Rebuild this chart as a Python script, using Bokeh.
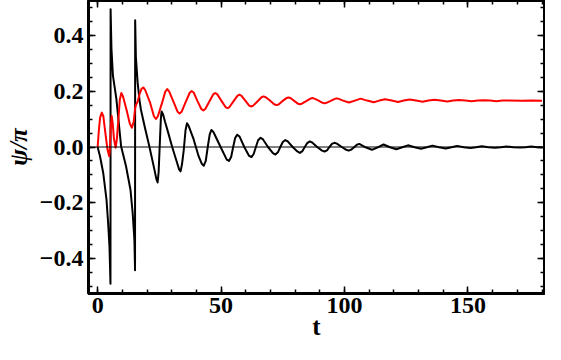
from bokeh.plotting import figure
from bokeh.models import (LinearAxis, SingleIntervalTicker, Span, Range1d,
                          CustomJSTickFormatter, CustomLabelingPolicy)
from bokeh.embed import file_html
from bokeh.resources import INLINE

# ---- data ----
black_t = [0, 0.95, 2.27, 3.6, 4.26, 4.8, 5.2, 5.25, 5.6, 6.2, 7.6, 9.5, 11.5, 13.3,
           14.2, 14.9, 15.15, 15.2, 15.5, 16.2, 17.0, 17.5, 19.0, 21.0, 23.0, 23.8,
           24.3, 24.7, 25.2, 25.6, 25.9, 26.5, 27.3, 28.2, 30.2, 32.2, 33.0, 33.6,
           34.2, 34.9, 35.6, 36.2, 36.9, 38.9, 40.9, 42.2, 43.0, 43.8, 44.6, 45.4,
           46.1, 47.0, 49.8, 52.3, 53.2, 54.1, 54.9, 55.7, 56.5, 57.5, 59.4, 61.3,
           62.3, 63.2, 64.1, 65.0, 66.0, 67.0, 69.0, 71.0, 72.0, 73.0, 74.0, 75.0,
           76.0, 77.0, 79.0, 80.9, 81.9, 82.9, 83.9, 84.9, 85.9, 86.9, 88.9, 90.9,
           91.9, 92.9, 93.9, 94.9, 95.9, 96.9, 98.9, 100.7, 101.7, 102.8, 103.9,
           105.0, 106.0, 108.5, 111.1, 113.5, 115.8, 118.4, 121.0, 123.4, 125.7,
           128.4, 131.0, 133.3, 135.6, 138.3, 141.0, 143.3, 145.6, 148.3, 151.0,
           153.3, 155.6, 158.3, 161.0, 163.3, 165.6, 168.3, 171.0, 173.3, 175.6,
           178.0, 180.0]
black_y = [0, -0.033, -0.093, -0.189, -0.273, -0.357, -0.489, 0.493, 0.351, 0.255,
           0.171, 0.003, -0.069, -0.153, -0.237, -0.333, -0.441, 0.453, 0.320,
           0.231, 0.165, 0.135, 0.075, 0.0, -0.081, -0.115, -0.127, -0.090, 0.015,
           0.100, 0.127, 0.117, 0.090, 0.063, 0.0, -0.057, -0.080, -0.087, -0.060,
           -0.009, 0.060, 0.085, 0.075, 0.027, -0.033, -0.060, -0.067, -0.050, 0.0,
           0.045, 0.061, 0.052, 0.0, -0.045, -0.050, -0.035, 0.0, 0.032, 0.044,
           0.037, 0.0, -0.031, -0.036, -0.025, 0.0, 0.024, 0.033, 0.027, 0.0,
           -0.022, -0.027, -0.019, 0.0, 0.018, 0.025, 0.020, 0.0, -0.016, -0.021,
           -0.015, 0.0, 0.014, 0.020, 0.016, 0.0, -0.013, -0.016, -0.012, 0.0,
           0.011, 0.015, 0.012, 0.0, -0.010, -0.013, -0.009, -0.001, 0.008, 0.011,
           -0.001, -0.010, -0.001, 0.009, -0.001, -0.008, -0.001, 0.006, -0.001,
           -0.006, -0.001, 0.005, -0.001, -0.005, -0.001, 0.004, -0.001, -0.004,
           -0.001, 0.003, -0.001, -0.003, -0.001, 0.002, -0.001, -0.002, -0.001,
           0.002, -0.001, -0.001]

red_t = [0, 0.5, 1.0, 1.7, 2.3, 3.2, 4.0, 4.7, 5.0, 5.3, 5.7, 6.1, 6.6, 7.3, 7.8,
         8.5, 9.0, 9.6, 10.3, 11.8, 13.0, 13.9, 14.6, 15.2, 15.6, 16.2, 17.0, 17.8,
         18.5, 19.3, 21.2, 22.8, 23.6, 24.4, 26.0, 27.4, 28.2, 29.0, 30.7, 32.4,
         33.2, 34.0, 35.6, 37.3, 38.1, 38.9, 40.4, 42.0, 42.8, 43.6, 45.2, 46.8,
         47.6, 48.4, 50.1, 51.8, 52.6, 53.4, 55.0, 56.6, 57.4, 58.2, 59.8, 61.4,
         62.2, 63.0, 64.7, 66.4, 67.2, 68.1, 69.8, 71.5, 72.4, 73.3, 74.8, 76.5,
         77.3, 78.1, 79.6, 81.1, 81.9, 82.7, 84.5, 86.2, 87.0, 87.8, 89.5, 91.1,
         91.9, 92.7, 94.4, 96.1, 96.9, 97.7, 99.4, 101.8, 104.2, 106.5, 109.2,
         111.8, 114.1, 116.4, 119.1, 121.7, 124.0, 126.4, 129.0, 131.6, 134.0,
         136.4, 139.0, 141.6, 144.0, 146.3, 149.0, 151.5, 154.0, 156.3, 159.0,
         161.5, 164.0, 166.3, 171.5, 176.3, 180.0]
red_y = [0, 0.060, 0.105, 0.123, 0.110, 0.045, -0.010, -0.033, 0.0, 0.070, 0.111,
         0.085, 0.030, -0.003, 0.030, 0.110, 0.170, 0.193, 0.180, 0.130, 0.085,
         0.069, 0.090, 0.140, 0.152, 0.162, 0.190, 0.208, 0.213, 0.203, 0.160,
         0.110, 0.100, 0.110, 0.155, 0.198, 0.207, 0.198, 0.162, 0.126, 0.120,
         0.126, 0.160, 0.194, 0.200, 0.195, 0.165, 0.136, 0.131, 0.136, 0.162,
         0.188, 0.193, 0.189, 0.166, 0.143, 0.139, 0.143, 0.163, 0.183, 0.187,
         0.184, 0.166, 0.148, 0.145, 0.148, 0.163, 0.178, 0.181, 0.178, 0.166,
         0.153, 0.150, 0.152, 0.164, 0.175, 0.177, 0.175, 0.165, 0.155, 0.153,
         0.155, 0.164, 0.173, 0.175, 0.173, 0.166, 0.158, 0.156, 0.158, 0.165,
         0.172, 0.174, 0.172, 0.166, 0.159, 0.166, 0.173, 0.166, 0.160, 0.166,
         0.171, 0.166, 0.161, 0.166, 0.170, 0.166, 0.162, 0.166, 0.169, 0.166,
         0.163, 0.166, 0.168, 0.166, 0.164, 0.166, 0.167, 0.166, 0.164, 0.166,
         0.166, 0.165, 0.166, 0.165]

x_major = 50
y_major = 0.2
x_label = "t"
y_label = "ψ/π"

FONT = "Liberation Serif"
X0, X1 = -3.7, 181.0
Y0, Y1 = -0.524, 0.524

p = figure(width=545, height=344, output_backend="svg", toolbar_location=None,
           x_range=Range1d(X0, X1), y_range=Range1d(Y0, Y1),
           min_border_left=88, min_border_right=1, min_border_top=0,
           min_border_bottom=51)
p.outline_line_color = "black"
p.outline_line_width = 3
p.grid.visible = False
p.background_fill_color = "white"
p.border_fill_color = "white"

p.add_layout(Span(location=0, dimension="width", line_color="black", line_width=1))

p.line(black_t, black_y, line_color="black", line_width=2, line_join="round")
p.line(red_t, red_y, line_color="#ff0000", line_width=2, line_join="round")

fmt_y = CustomJSTickFormatter(code="return tick.toFixed(1).replace('-', '\u2212');")
fmt_x = CustomJSTickFormatter(code="return tick.toFixed(0);")
fmt_none = CustomJSTickFormatter(code="return '';")
no_labels = CustomLabelingPolicy(code="""
try { for (const i of Array.from(indices)) { indices.unset(i) } } catch (e) {}
return indices
""")

def style(ax, labels=True):
    ax.axis_line_color = None
    ax.major_tick_in = 7
    ax.major_tick_out = 0
    ax.minor_tick_in = 4
    ax.minor_tick_out = 0
    ax.major_tick_line_width = 1.5
    ax.minor_tick_line_width = 1.5
    if labels:
        ax.major_label_text_font = FONT
        ax.major_label_text_font_style = "bold"
        ax.major_label_text_font_size = "24px"
        ax.major_label_text_color = "black"
        ax.axis_label_text_font = FONT
        ax.axis_label_text_font_size = "25px"
        ax.axis_label_text_color = "black"
    else:
        ax.formatter = fmt_none
        ax.major_label_policy = no_labels
        ax.major_label_text_font_size = "1px"
        ax.major_label_standoff = 0

p.xaxis.ticker = SingleIntervalTicker(interval=x_major, num_minor_ticks=5)
p.yaxis.ticker = SingleIntervalTicker(interval=y_major, num_minor_ticks=4)
p.xaxis.formatter = fmt_x
p.yaxis.formatter = fmt_y
style(p.xaxis[0])
style(p.yaxis[0])
p.yaxis.axis_label = y_label
p.yaxis.axis_label_text_font_style = "bold italic"
p.xaxis.axis_label = x_label
p.xaxis.axis_label_text_font_style = "bold"
p.xaxis.major_label_standoff = 4
p.xaxis.axis_label_standoff = -3
p.yaxis.major_label_standoff = 5
p.yaxis.axis_label_standoff = 5

ra = LinearAxis(ticker=SingleIntervalTicker(interval=y_major, num_minor_ticks=4))
style(ra, labels=False)
p.add_layout(ra, "right")
ta = LinearAxis(ticker=SingleIntervalTicker(interval=x_major, num_minor_ticks=5))
style(ta, labels=False)
p.add_layout(ta, "above")

open("out.html", "w").write(file_html(p, INLINE))
